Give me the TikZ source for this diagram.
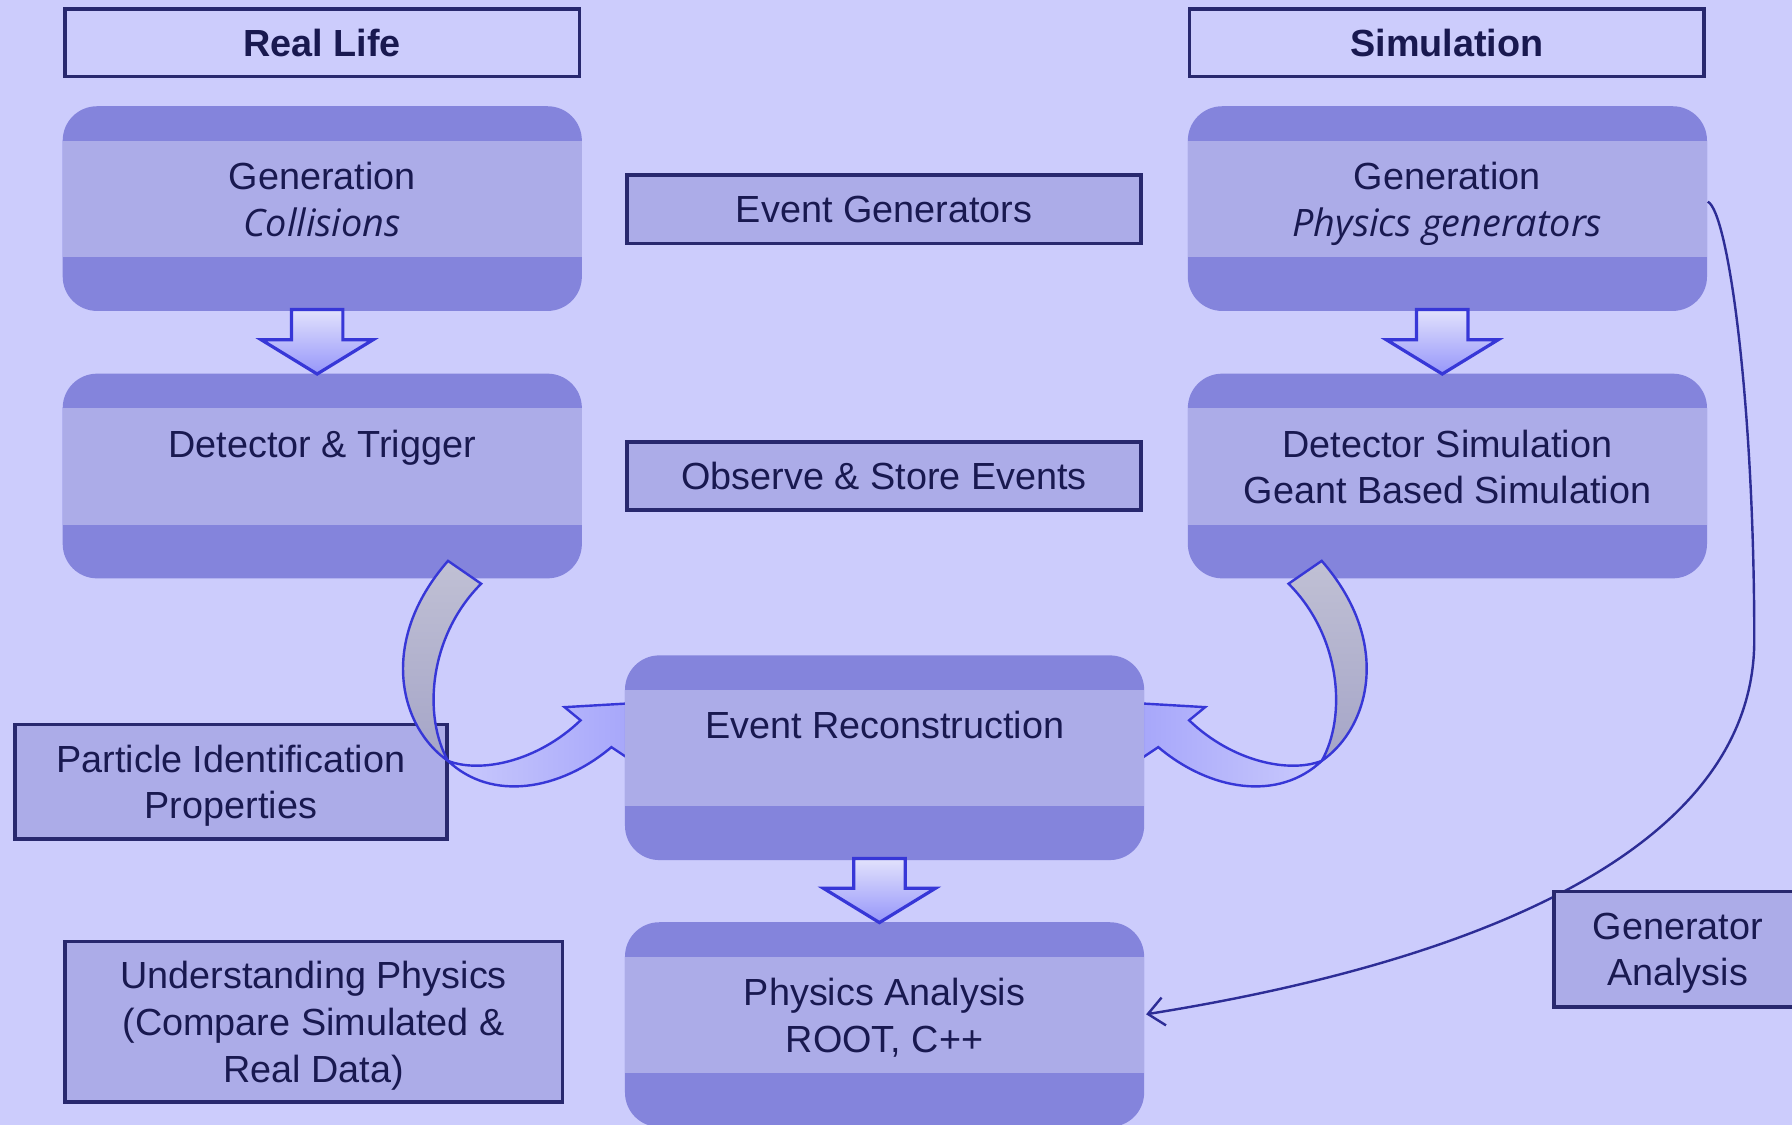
\documentclass[tikz,border=0pt]{standalone}
\usepackage{fontspec}
\setmainfont{Liberation Sans}
\newfontfamily\slantfont{Open Sans}
\usetikzlibrary{calc,arrows.meta}

\definecolor{bgcol}{RGB}{204,204,252}
\definecolor{stagedark}{RGB}{132,132,220}
\definecolor{stagemid}{RGB}{172,172,232}
\definecolor{tagfill}{RGB}{172,172,232}
\definecolor{tagline}{RGB}{40,40,110}
\definecolor{inkcol}{RGB}{25,25,80}
\definecolor{arrowline}{RGB}{55,55,215}
\definecolor{blockhi}{RGB}{226,226,252}
\definecolor{blocklo}{RGB}{150,150,250}
\definecolor{grayhi}{RGB}{192,192,212}
\definecolor{graylo}{RGB}{165,165,200}
\definecolor{ribpale}{RGB}{202,202,252}
\definecolor{ribblue}{RGB}{160,160,250}
\definecolor{curvecol}{RGB}{45,45,150}

\begin{document}
\begin{tikzpicture}[x=0.01cm, y=-0.01cm,
    font=\fontsize{9.4}{11.6}\selectfont, text=inkcol,
    tagbox/.style={draw=tagline, line width=0.9pt, fill=tagfill, align=center, inner sep=0pt},
    multiline/.style={text depth=0pt},
    stage/.style={fill=stagedark, rounded corners=0.3cm, minimum width=4.54cm,
        minimum height=1.79cm, inner sep=0pt,
        path picture={\fill[stagemid, sharp corners]
            ($(path picture bounding box.north west)+(0,30)$) rectangle
            ($(path picture bounding box.north east)+(0,132)$);}},
    stagetext/.style={anchor=north, align=center, inner sep=0pt},
    block/.style={draw=arrowline, line width=0.8pt, top color=blockhi, bottom color=blocklo},
    ribbon/.style={draw=arrowline, line width=0.6pt},
    genlink/.style={draw=curvecol, line width=0.6pt, -{Straight Barb[length=4pt,width=7pt]}}]

    \useasboundingbox (0,0) rectangle (1568,984);
    \fill[bgcol] (0,0) rectangle (1568,984);

    % column headers and middle captions
    \node[tagbox, fill=none, minimum width=4.5cm, minimum height=0.59cm] (real) at (282,37.5) {\bfseries Real Life};
    \node[tagbox, fill=none, minimum width=4.5cm, minimum height=0.59cm] (sim) at (1266,37.5) {\bfseries Simulation};
    \node[tagbox, minimum width=4.49cm, minimum height=0.6cm] (evgen) at (773.5,183) {Event Generators};
    \node[tagbox, minimum width=4.49cm, minimum height=0.59cm] (store) at (773.5,416.5) {Observe \& Store Events};
    \node[tagbox, multiline, minimum width=3.78cm, minimum height=1cm] (pid) at (202,684) {Particle Identification\\Properties};
    \node[tagbox, multiline, minimum width=4.35cm, minimum height=1.4cm] (underst) at (274.5,894) {Understanding Physics\\(Compare Simulated \&\\Real Data)};

    % real life chain
    \node[stage] (gen) at (282,182.5) {};
    \node[stagetext] (gen-t) at ($(gen.north)+(0,49)$) {Generation\\{\slantfont\itshape Collisions}};
    \node[stage] (det) at (282,416.5) {};
    \node[stagetext] (det-t) at ($(det.north)+(0,49)$) {Detector \& Trigger};

    % simulation chain
    \node[stage] (sgen) at (1266.5,182.5) {};
    \node[stagetext] (sgen-t) at ($(sgen.north)+(0,49)$) {Generation\\{\slantfont\itshape Physics generators}};
    \node[stage] (sdet) at (1266.5,416.5) {};
    \node[stagetext] (sdet-t) at ($(sdet.north)+(0,49)$) {Detector Simulation\\Geant Based Simulation};

    % curled arrows into the reconstruction
    \foreach \src/\flip/\lc/\rc in {det/1/ribpale/ribblue, sdet/-1/ribblue/ribpale} {
        \begin{scope}[shift={(\src.south)}, xscale=\flip]
            \draw[ribbon, top color=grayhi, bottom color=graylo]
                (110,-16) -- (139,4) .. controls (93,50) and (88,120) .. (110,159)
                .. controls (68,130) and (48,55) .. (110,-16) -- cycle;
            \draw[ribbon, left color=\lc, right color=\rc]
                (110,159) .. controls (138,170) and (188,160) .. (226,123.5)
                -- (212,112) -- (298,107) -- (280,165) -- (253,147)
                .. controls (208,185) and (148,195) .. (110,159) -- cycle;
        \end{scope}
    }

    \node[stage] (reco) at (774,663) {};
    \node[stagetext] (reco-t) at ($(reco.north)+(0,49)$) {Event Reconstruction};
    \node[stage] (ana) at (774,896.5) {};
    \node[stagetext] (ana-t) at ($(ana.north)+(0,49)$) {Physics Analysis\\ROOT, C++};

    \foreach \a/\b in {gen/det, sgen/sdet, reco/ana}
        \draw[block] ($(\a.south)+(-27,-2)$) -- ($(\a.south)+(18,-2)$) -- ($(\b.north)+(18,-29)$)
            -- ($(\b.north)+(44.5,-29)$) -- ($(\b.north)+(-4.5,1)$) -- ($(\b.north)+(-53.5,-29)$)
            -- ($(\b.north)+(-27,-29)$) -- cycle;

    \draw[genlink] ($(sgen.east)+(0,-6)$) .. controls (1512,185) and (1535,350) .. (1535,560)
        .. controls (1535,740) and (1300,840) .. ($(ana.east)+(1,-9)$);

    \node[tagbox, multiline, minimum width=2.16cm, minimum height=1.01cm] (genana) at (1468,830.5) {Generator\\Analysis};
\end{tikzpicture}
\end{document}
